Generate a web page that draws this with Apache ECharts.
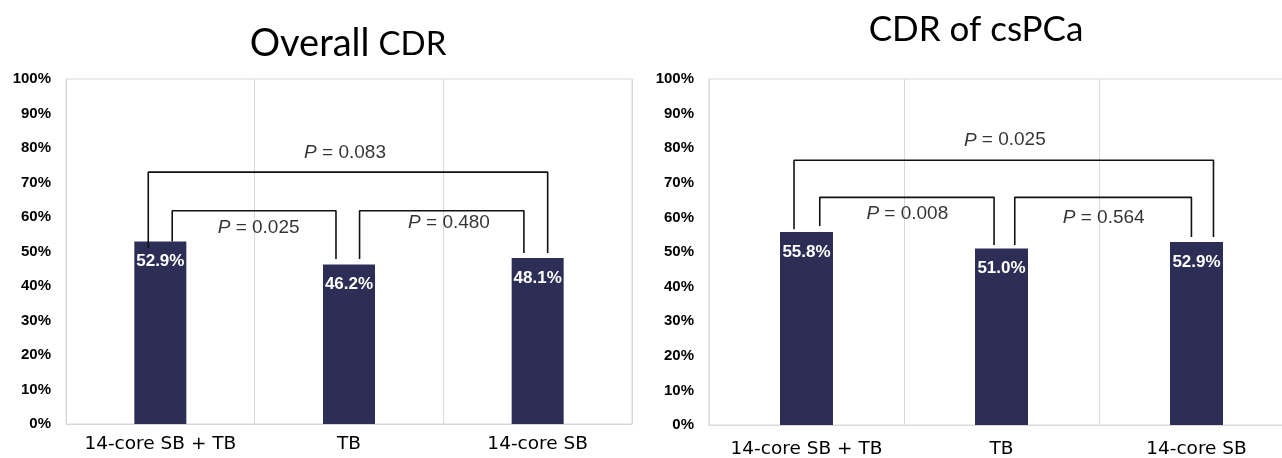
<!DOCTYPE html>
<html>
<head>
<meta charset="utf-8">
<script src="https://cdn.jsdelivr.net/npm/echarts@6/dist/echarts.min.js"></script>
<style>html,body{margin:0;padding:0;background:#fff}#c{width:1282px;height:458px}</style>
</head>
<body>
<div id="c"></div>
<script>
// ---- data ----
const categories = ['14-core SB + TB', 'TB', '14-core SB'];
const overallCDR = [52.9, 46.2, 48.1];
const cspcaCDR = [55.8, 51.0, 52.9];
const titles = ['Overall CDR', 'CDR of csPCa'];
const yTicks = [0, 10, 20, 30, 40, 50, 60, 70, 80, 90, 100];
// brackets: [xStart, xEnd, top, bottomStart, bottomEnd] in category-index / percent units
const overallBrackets = [
  [-0.064, 2.053, 73.0, 51.0, 49.6],
  [0.063, 0.931, 61.8, 52.9, 47.8],
  [1.056, 1.927, 61.8, 47.8, 49.6]
];
const cspcaBrackets = [
  [-0.064, 2.087, 76.5, 56.6, 54.3],
  [0.068, 0.962, 65.8, 57.5, 52.0],
  [1.068, 1.974, 65.8, 52.0, 54.3]
];
// p-value labels: [x, y, text]
const overallP = [
  [0.979, 78.6, '0.083'],
  [0.521, 56.8, '0.025'],
  [1.530, 58.4, '0.480']
];
const cspcaP = [
  [1.017, 82.3, '0.025'],
  [0.517, 61.1, '0.008'],
  [1.524, 59.9, '0.564']
];

const chart = echarts.init(document.getElementById('c'));
const BAR = '#2d2e56';
const GRIDC = '#d9d9d9';

function catAxis(gi, margin) {
  return {
    type: 'category', gridIndex: gi, data: categories, boundaryGap: true,
    axisLine: {show: true, lineStyle: {color: GRIDC}},
    axisTick: {show: false, interval: 0},
    splitLine: {show: true, interval: 0, lineStyle: {color: GRIDC, width: 1}},
    axisLabel: {interval: 0, hideOverlap: false, margin: margin, color: '#000', fontSize: 18.5, fontFamily: '"DejaVu Sans", sans-serif'}
  };
}
function valXAxis(gi) {
  return {type: 'value', gridIndex: gi, min: -0.5, max: 2.5, show: false};
}
function yAx(gi) {
  return {
    type: 'value', gridIndex: gi, min: 0, max: 100, interval: 10,
    axisLine: {show: false}, axisTick: {show: false}, splitLine: {show: false},
    axisLabel: {formatter: v => v + '%', margin: 15, color: '#000', fontSize: 15,
      fontWeight: 'bold', fontFamily: '"Liberation Sans Narrow", "Liberation Sans", sans-serif'}
  };
}
function barSeries(gi, data) {
  return {
    type: 'bar', xAxisIndex: gi, yAxisIndex: gi, data: data,
    barWidth: gi === 0 ? 52 : 53,
    itemStyle: {color: BAR},
    label: {show: true, position: 'insideTop', distance: 12, color: '#fff',
      fontSize: 17, fontWeight: 'bold', lineHeight: 16,
      fontFamily: '"Liberation Sans Narrow", "Liberation Sans", sans-serif',
      formatter: p => p.value.toFixed(1) + '%'}
  };
}
function bracketSeries(gi, brs) {
  return brs.map(b => ({
    type: 'line', xAxisIndex: gi + 2, yAxisIndex: gi, symbol: 'none', silent: true,
    lineStyle: {color: '#111', width: 1.6},
    data: [[b[0], b[3]], [b[0], b[2]], [b[1], b[2]], [b[1], b[4]]]
  }));
}
function pSeries(gi, ps) {
  return {
    type: 'scatter', xAxisIndex: gi + 2, yAxisIndex: gi, symbolSize: 0, silent: true,
    data: ps.map(p => ({value: [p[0], p[1]], name: p[2]})),
    label: {show: true, position: 'inside', color: '#000',
      formatter: p => '{i|P} = ' + p.name,
      fontSize: 19, fontFamily: '"Liberation Sans", Arial, sans-serif',
      rich: {i: {fontStyle: 'italic', fontSize: 19, fontFamily: '"Liberation Sans", Arial, sans-serif', color: '#000'}}}
  };
}

chart.setOption({
  animation: false,
  backgroundColor: '#fff',
  graphic: [
    {type: 'text', x: 348, y: 44, style: {text: '{a|Overall}{s| }{b|CDR}', align: 'center', verticalAlign: 'middle',
      rich: {a: {fontSize: 38, fontFamily: 'Lato, sans-serif', fill: '#000'},
             s: {fontSize: 30, width: 9, fontFamily: 'Lato, sans-serif'},
             b: {fontSize: 33, fontFamily: 'Lato, sans-serif', fill: '#000'}}}},
    {type: 'text', x: 976, y: 30, style: {text: titles[1], align: 'center', verticalAlign: 'middle',
      fontSize: 35, fontFamily: 'Lato, sans-serif', fill: '#000'}}
  ],
  grid: [
    {left: 66, right: 650, top: 79, bottom: 34, show: true, borderColor: GRIDC, borderWidth: 1, outerBoundsMode: 'none', containLabel: false},
    {left: 709, right: -12, top: 79, bottom: 33, show: true, borderColor: GRIDC, borderWidth: 1, outerBoundsMode: 'none', containLabel: false}
  ],
  xAxis: [catAxis(0, 11), catAxis(1, 15), valXAxis(0), valXAxis(1)],
  yAxis: [yAx(0), yAx(1)],
  series: [
    barSeries(0, overallCDR), barSeries(1, cspcaCDR),
    ...bracketSeries(0, overallBrackets), ...bracketSeries(1, cspcaBrackets),
    pSeries(0, overallP), pSeries(1, cspcaP)
  ]
});
</script>
</body>
</html>
